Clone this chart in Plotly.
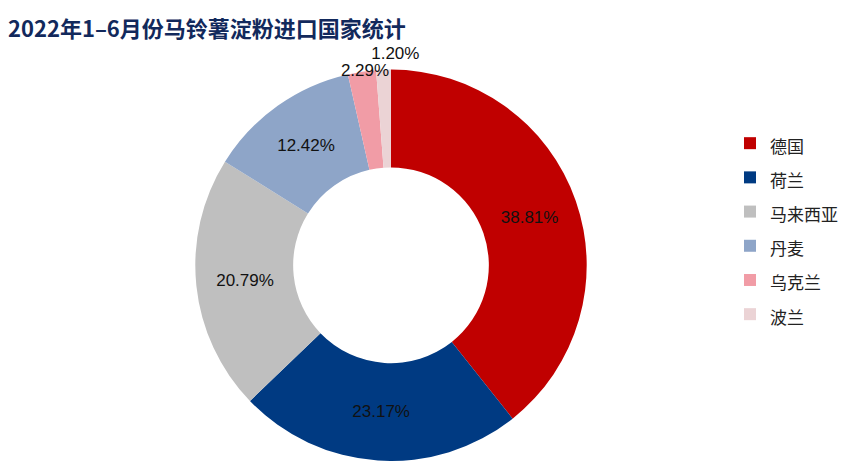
import math
import plotly.graph_objects as go

countries = ["德国", "荷兰", "马来西亚", "丹麦", "乌克兰", "波兰"]
shares = [38.81, 23.17, 20.79, 12.42, 2.29, 1.20]
colors = ["#C00000", "#003A82", "#BFBFBF", "#8EA5C8", "#F19CA6", "#EBD3D5"]
inside_positions = ["inside", "inside", "inside", "inside", "none", "none"]
title_text = "2022年1–6月份马铃薯淀粉进口国家统计"

legend_labels = ['<span style="font-size:17px">%s</span>' % c for c in countries]

# page body has an 8px margin, so the figure is drawn 8px in from the window
OFF = 8
W, H = 865 - OFF, 461 - OFF
cx, cy, R = 391 - OFF, 265.3 - OFF, 195.7

label_font = "Liberation Sans, Arial, sans-serif"
FS = 17


def domain_for(cxp, cyp, r):
    return dict(x=[(cxp - r) / W, (cxp + r) / W],
                y=[max(0.0, (H - cyp - r) / H), min(1.0, (H - cyp + r) / H)])


fig = go.Figure()

# main donut
fig.add_trace(go.Pie(
    labels=legend_labels,
    values=shares,
    sort=False,
    direction="clockwise",
    rotation=0,
    hole=0.5,
    marker=dict(colors=colors, line=dict(width=0)),
    texttemplate="%{value:.2f}%",
    textposition=inside_positions,
    insidetextorientation="horizontal",
    textfont=dict(family=label_font, size=FS, color="#111111"),
    insidetextfont=dict(family=label_font, size=FS, color="#111111"),
    domain=domain_for(cx, cy, R),
    hoverinfo="skip",
    automargin=False,
))

# outside labels of the two small slices: one transparent copy of the donut per label,
# so that plotly does not stack them with a leader line
small = {4: (357.0, 63.0), 5: (387.3, 46.0)}   # wanted label centres (figure px)
r_lab = 180.0
total = sum(shares)
tw, th = FS * 2.835, FS * 1.117
for k, (tx, ty) in small.items():
    mid = (sum(shares[:k]) + shares[k] / 2) / total * 2 * math.pi
    px, py = r_lab * math.sin(mid), -r_lab * math.cos(mid)
    dx = tw / 2 * (1 if px >= 0 else -1)
    dy = th / 2 * (1 if py >= 0 else -1)
    offx = dx + abs(dy) * (1 if dx > 0 else -1) / 2
    offy = dy / (1 + px * px / (py * py))
    cxp = tx - px - offx
    cyp = ty - py - offy
    fig.add_trace(go.Pie(
        labels=legend_labels,
        values=shares,
        sort=False,
        direction="clockwise",
        rotation=0,
        hole=0.5,
        marker=dict(colors=["rgba(0,0,0,0)"] * len(shares), line=dict(width=0)),
        texttemplate=["%{value:.2f}%" if i == k else "" for i in range(len(shares))],
        textposition=["outside" if i == k else "none" for i in range(len(shares))],
        outsidetextfont=dict(family=label_font, size=FS, color="#111111"),
        domain=domain_for(cxp, cyp, r_lab),
        hoverinfo="skip",
        showlegend=False,
        automargin=False,
    ))

fig.update_layout(
    width=W, height=H,
    margin=dict(l=0, r=0, t=0, b=0),
    paper_bgcolor="white",
    plot_bgcolor="white",
    title=dict(text="<b>" + title_text + "</b>", x=0, xanchor="left", y=0.9536, yanchor="middle",
               font=dict(family="Noto Sans CJK SC", size=22, color="#12295C")),
    legend=dict(x=722 / W, xanchor="left", y=0.7504, yanchor="top",
                font=dict(family="Noto Sans CJK SC", size=24, color="#222222"),
                itemwidth=30, bgcolor="rgba(0,0,0,0)"),
    showlegend=True,
)

fig.write_html("out.html")
